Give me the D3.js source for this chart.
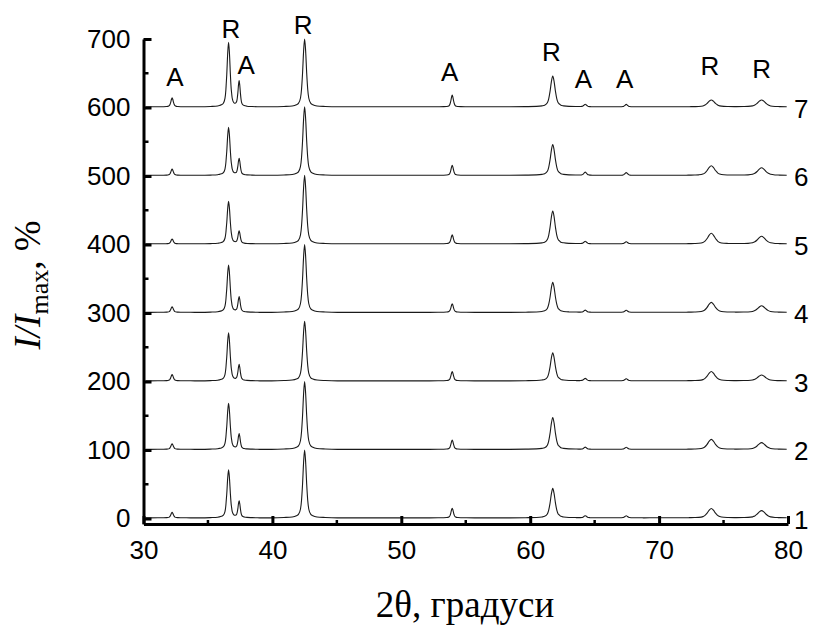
<!DOCTYPE html>
<html>
<head>
<meta charset="utf-8" />
<title>XRD</title>
<script src="https://d3js.org/d3.v7.min.js"></script>
<style>
  body { margin: 0; background: #fff; }
  svg { display: block; }
</style>
</head>
<body>
<div id="chart"></div>
<script>
// peak positions (2θ) and widths (FWHM, degrees)
var peakPos  = [32.22, 36.6, 37.42, 42.5, 53.95, 61.75, 64.27, 67.45, 74.05, 77.95];
var peakFwhm = [0.22, 0.28, 0.2, 0.32, 0.22, 0.42, 0.25, 0.25, 0.65, 0.7];

// peak heights (I/Imax, %) for each pattern, same order as peakPos
var trace1 = [8, 70, 24, 99, 14, 43, 3, 3, 13.5, 10.5];
var trace2 = [8, 67, 22, 99, 13.5, 46.5, 3, 3, 14.5, 9.7];
var trace3 = [9, 70, 23, 87, 13.5, 41, 3.5, 3, 13.5, 8.5];
var trace4 = [8, 69, 22, 99, 12.5, 44, 3, 3, 14.5, 9.5];
var trace5 = [7, 62, 18, 100, 13, 48, 3.5, 3, 15.5, 11];
var trace6 = [9, 70, 24, 100, 14.5, 45, 4.5, 4, 14, 11];
var trace7 = [13, 94, 37, 99, 17, 45, 3.5, 3.5, 10, 10];
var traces = [trace1, trace2, trace3, trace4, trace5, trace6, trace7];
var traceNames = ["1", "2", "3", "4", "5", "6", "7"];
var traceOffsets = [0, 100, 200, 300, 400, 500, 600];
var baseLevel = 1;

// normalised peak profile: distance in FWHM units -> relative intensity
var profileU = [0, 0.25, 0.5, 0.75, 1, 1.5, 2, 3, 5, 8];
var profileI = [1, 0.82, 0.5, 0.26, 0.13, 0.05, 0.03, 0.013, 0.005, 0];

// phase labels
var annLabels = ["A", "R", "A", "R", "A", "R", "A", "A", "R", "R"];
var annX = [32.44, 36.78, 37.96, 42.39, 53.76, 61.64, 64.13, 67.33, 73.95, 77.96];
var annY = [631, 702, 649, 707, 638, 668, 629, 629, 647, 643];

var xTicks = [30, 40, 50, 60, 70, 80];
var xMinor = [35, 45, 55, 65, 75];
var yTicks = [0, 100, 200, 300, 400, 500, 600, 700];
var yMinor = [50, 150, 250, 350, 450, 550, 650];

var width = 817, height = 626;
var sans = "'Liberation Sans', Arial, sans-serif";
var serif = "'Liberation Serif', 'Times New Roman', serif";

var svg = d3.select("#chart").append("svg").attr("width", width).attr("height", height);

var x = d3.scaleLinear().domain([30, 80]).range([143.5, 788]);
var y = d3.scaleLinear().domain([-8, 700]).range([524, 39]);
var profile = d3.scaleLinear().domain(profileU).range(profileI).clamp(true);

// sample points: around each peak plus the ends
var xs = [30.15, 79.9];
peakPos.forEach(function(p, i) {
  profileU.forEach(function(u) {
    xs.push(p - u * peakFwhm[i]);
    xs.push(p + u * peakFwhm[i]);
  });
});
xs = Array.from(new Set(xs.filter(function(v) { return v >= 30.15 && v <= 79.9; }))).sort(d3.ascending);

var line = d3.line()
  .x(function(d) { return x(d[0]); })
  .y(function(d) { return y(d[1]); })
  .curve(d3.curveMonotoneX);

traces.forEach(function(h, k) {
  var pts = xs.map(function(v) {
    var s = traceOffsets[k] + baseLevel;
    peakPos.forEach(function(p, i) {
      s += h[i] * profile(Math.abs(v - p) / peakFwhm[i]);
    });
    return [v, s];
  });
  svg.append("path").datum(pts)
    .attr("d", line)
    .attr("fill", "none")
    .attr("stroke", "#1a1a1a")
    .attr("stroke-width", 1.1);

  svg.append("text")
    .attr("x", 794)
    .attr("y", y(traceOffsets[k] + baseLevel) + 11)
    .attr("font-family", sans).attr("font-size", 26)
    .text(traceNames[k]);
});

// axes
var yAxis = svg.append("g").attr("transform", "translate(" + x(30) + ",0)")
  .call(d3.axisLeft(y).tickValues(yTicks).tickSize(-8).tickSizeOuter(0).tickPadding(13));
var xAxis = svg.append("g").attr("transform", "translate(0," + y(-8) + ")")
  .call(d3.axisBottom(x).tickValues(xTicks).tickSize(-8).tickSizeOuter(0).tickPadding(17));

[yAxis, xAxis].forEach(function(a) {
  a.select(".domain").attr("stroke", "#000").attr("stroke-width", 3);
  a.selectAll(".tick line").attr("stroke", "#000").attr("stroke-width", 3);
  a.selectAll("text").attr("font-family", sans).attr("font-size", 26).attr("fill", "#000");
});

svg.append("g").selectAll("line").data(yMinor).enter().append("line")
  .attr("x1", x(30)).attr("x2", x(30) + 5)
  .attr("y1", function(d) { return y(d); }).attr("y2", function(d) { return y(d); })
  .attr("stroke", "#000").attr("stroke-width", 2.5);
svg.append("g").selectAll("line").data(xMinor).enter().append("line")
  .attr("x1", function(d) { return x(d); }).attr("x2", function(d) { return x(d); })
  .attr("y1", y(-8)).attr("y2", y(-8) - 4)
  .attr("stroke", "#000").attr("stroke-width", 2.5);

// phase labels
svg.append("g").selectAll("text").data(annLabels).enter().append("text")
  .attr("x", function(d, i) { return x(annX[i]); })
  .attr("y", function(d, i) { return y(annY[i]); })
  .attr("text-anchor", "middle")
  .attr("font-family", sans).attr("font-size", 26)
  .text(function(d) { return d; });

// axis titles
svg.append("text")
  .attr("x", 465).attr("y", 617)
  .attr("text-anchor", "middle")
  .attr("font-family", serif).attr("font-size", 37)
  .text("2θ, градуси");

var yt = svg.append("text")
  .attr("transform", "translate(40,285) rotate(-90)")
  .attr("text-anchor", "middle")
  .attr("font-family", serif).attr("font-size", 37);
yt.append("tspan").attr("font-style", "italic").text("I/I");
yt.append("tspan").attr("font-size", 26).attr("dy", 8).text("max");
yt.append("tspan").attr("dy", -8).text(", %");
</script>
</body>
</html>
